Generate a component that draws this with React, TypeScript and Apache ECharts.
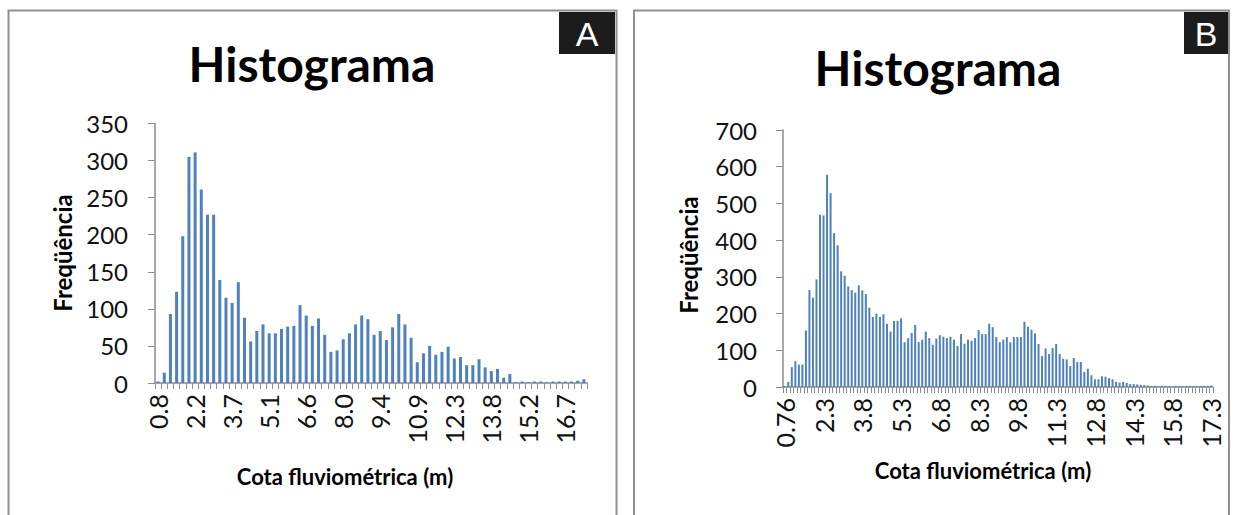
import { useEffect, useRef } from 'react';
import * as echarts from 'echarts';

// Panel A: 70 bins, label every 6th bin
const ticksA = ['0.8', '2.2', '3.7', '5.1', '6.6', '8.0', '9.4', '10.9', '12.3', '13.8', '15.2', '16.7'];
const valuesA = [
  2, 14, 93, 123, 198, 305, 311, 261, 227, 227,
  139, 115, 108, 136, 88, 56, 70, 79, 67, 67,
  73, 76, 77, 105, 91, 77, 87, 65, 42, 44,
  59, 67, 79, 91, 86, 65, 70, 58, 75, 93,
  79, 61, 28, 40, 50, 38, 42, 49, 33, 35,
  24, 24, 32, 21, 16, 19, 7, 12, 1, 2,
  1, 2, 2, 1, 2, 2, 2, 2, 3, 5,
];

// Panel B: 122 bins, label every 11th bin
const ticksB = ['0.76', '2.3', '3.8', '5.3', '6.8', '8.3', '9.8', '11.3', '12.8', '14.3', '15.8', '17.3'];
const valuesB = [
  3,
  14, 54, 70, 61, 61, 154, 264, 243, 293, 469, 467, 578, 528, 419, 386, 315, 303, 274, 264, 257,
  277, 263, 253, 216, 191, 200, 191, 198, 172,
  151, 180, 180, 187, 122, 133, 147, 169, 122, 129, 151, 133, 115, 132, 141, 137, 133, 137, 129, 112,
  144, 118, 129, 126, 133, 155, 144, 144, 172, 163,
  136, 122, 129, 136, 122, 136, 136, 136, 178, 164, 156, 146, 117, 84, 105, 90, 106, 117, 90, 77,
  75, 57, 79, 68, 68, 41, 50, 32, 21, 21,
  29, 28, 24, 21, 14, 12, 14, 11, 8, 8, 7, 6, 5, 4, 3, 3, 2, 3, 3, 2,
  2, 3, 3, 2, 3, 3, 3, 2, 3, 3, 3, 4,
];

const stepA = 6;
const stepB = 11;
const yTicksA = { min: 0, max: 350, interval: 50 };
const yTicksB = { min: 0, max: 700, interval: 100 };

const BAR = '#4F81BD';
const AXIS = '#8c8c8c';
const FONT = 'Lato';

function xAxisFor(gridIndex: number, values: number[], ticks: string[], step: number) {
  return {
    type: 'category',
    gridIndex,
    data: values.map((_, i) => String(i)),
    boundaryGap: true,
    axisLine: { show: true, lineStyle: { color: AXIS, width: 1.5 } },
    axisTick: { show: true, interval: 0, length: 6, lineStyle: { color: AXIS } },
    axisLabel: {
      interval: step - 1,
      rotate: 90,
      margin: 11,
      fontSize: 25,
      fontFamily: FONT,
      color: '#111',
      formatter: (_v: string, i: number) => ticks[Math.round(i / step)] ?? '',
    },
    splitLine: { show: false },
  };
}

function yAxisFor(gridIndex: number, t: { min: number; max: number; interval: number }, margin: number) {
  return {
    type: 'value',
    gridIndex,
    min: t.min,
    max: t.max,
    interval: t.interval,
    axisLine: { show: true, lineStyle: { color: AXIS, width: 1.5 } },
    axisTick: { show: true, length: 7, lineStyle: { color: AXIS } },
    axisLabel: { margin, fontSize: 24, fontFamily: FONT, color: '#111' },
    splitLine: { show: false },
  };
}

function textEl(text: string, x: number, y: number, size: number, bold: boolean, rotation = 0, fill = '#000', family = FONT) {
  return {
    type: 'text',
    x,
    y,
    rotation,
    style: {
      text,
      fill,
      fontSize: size,
      fontWeight: bold ? 'bold' : 'normal',
      fontFamily: family,
      textAlign: 'center',
      textVerticalAlign: 'middle',
    },
  };
}

export default function App() {
  const ref = useRef<HTMLDivElement>(null);
  useEffect(() => {
    document.body.style.margin = '0';
    const chart = echarts.init(ref.current!, null, { renderer: 'svg' });
    chart.setOption({
      animation: false,
      backgroundColor: '#fff',
      grid: [
        { left: 155, top: 123.5, width: 432, height: 259.5 },
        { left: 783, top: 130, width: 430, height: 257 },
      ],
      xAxis: [xAxisFor(0, valuesA, ticksA, stepA), xAxisFor(1, valuesB, ticksB, stepB)],
      yAxis: [yAxisFor(0, yTicksA, 27), yAxisFor(1, yTicksB, 26)],
      series: [
        { type: 'bar', xAxisIndex: 0, yAxisIndex: 0, data: valuesA, barWidth: 3, itemStyle: { color: BAR } },
        { type: 'bar', xAxisIndex: 1, yAxisIndex: 1, data: valuesB, barWidth: 2, itemStyle: { color: BAR } },
      ],
      graphic: [
        {
          type: 'polyline',
          shape: { points: [[8.5, 520], [8.5, 10.5], [616.5, 10.5], [616.5, 520]] },
          style: { stroke: '#8f8f8f', lineWidth: 2, fill: 'none' },
        },
        {
          type: 'polyline',
          shape: { points: [[634, 520], [634, 10.5], [1229, 10.5], [1229, 520]] },
          style: { stroke: '#8f8f8f', lineWidth: 2, fill: 'none' },
        },
        { type: 'rect', shape: { x: 559, y: 12, width: 56, height: 42 }, style: { fill: '#1c1c1c' } },
        { type: 'rect', shape: { x: 1184, y: 12, width: 44, height: 42 }, style: { fill: '#1c1c1c' } },
        textEl('A', 587, 34, 34, false, 0, '#fff', 'Liberation Sans'),
        textEl('B', 1206, 34, 34, false, 0, '#fff', 'Liberation Sans'),
        textEl('Histograma', 312, 63, 48, true),
        textEl('Histograma', 938, 67, 48, true),
        textEl('Freqüência', 62, 253, 24, true, Math.PI / 2),
        textEl('Freqüência', 688, 255, 24, true, Math.PI / 2),
        textEl('Cota fluviométrica (m)', 345, 476, 22, true),
        textEl('Cota fluviométrica (m)', 983, 470, 22, true),
      ],
    });
    return () => chart.dispose();
  }, []);
  return <div ref={ref} style={{ width: 1239, height: 515 }} />;
}
